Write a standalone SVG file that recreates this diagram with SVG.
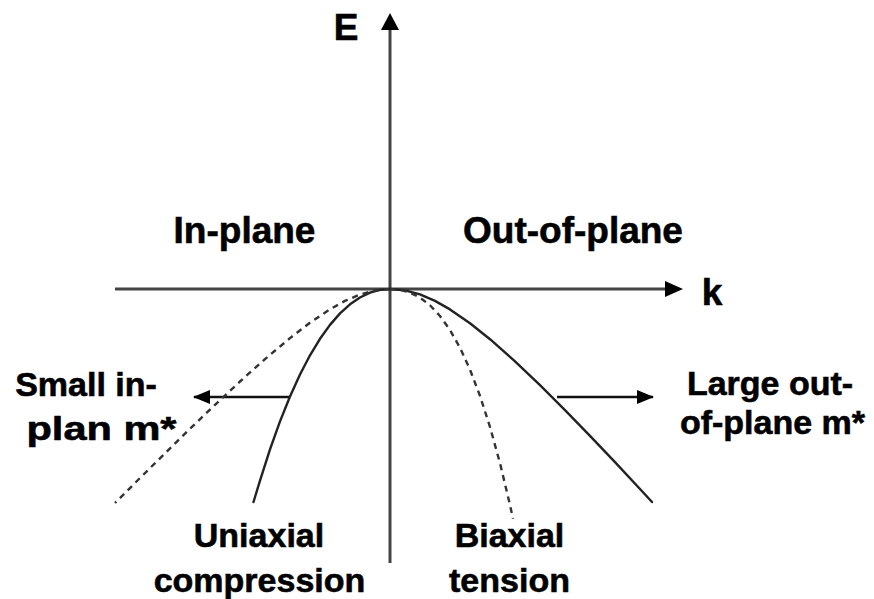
<svg xmlns="http://www.w3.org/2000/svg" width="874" height="599" viewBox="0 0 874 599">
<style>
.axis{stroke:#444;stroke-width:3;fill:none}
.curve{stroke:#222;stroke-width:2.4;fill:none;stroke-linejoin:round;stroke-linecap:round}
.dash{stroke-dasharray:6 5;stroke-linecap:butt;stroke:#333}
.arr{stroke:#111;stroke-width:2.5;fill:none}
text{font-family:"Liberation Sans",Arial,sans-serif;font-weight:bold;fill:#000;stroke:#000;stroke-width:0.6;text-anchor:middle}
.big{font-size:37px}
.lbl{font-size:34px}
</style>
<defs>
<marker id="ah" markerWidth="18" markerHeight="16" refX="16" refY="7" orient="auto" markerUnits="userSpaceOnUse">
<path d="M0,0 L17,7 L0,14 Z" fill="#000"/>
</marker>
</defs>
<g id="connectors">
<line class="axis" x1="390" y1="563" x2="390" y2="29"/>
<path d="M381,30 L390,13 L399,30 Z" fill="#000"/>
<line class="axis" x1="115" y1="289" x2="666" y2="289"/>
<path d="M665,281 L683,289 L665,297 Z" fill="#000"/>
<line class="arr" x1="290" y1="397" x2="194" y2="397" marker-end="url(#ah)"/>
<line class="arr" x1="557" y1="397" x2="653" y2="397" marker-end="url(#ah)"/>
</g>
<g id="curve-uniaxial">
<polyline class="curve" points="390,289 380,289.9 370,292.7 360,297.5 350,304.3 340,313.4 330,324.9 320,338.8 310,355.3 300,374.5 290,396.5 280,421.4 270,449.4 260,480.6 253.5,502"/>
</g>
<g id="curve-inplane">
<polyline class="curve dash" points="390,289 375,290.4 360,294.5 345,300.9 330,309.3 310,322.7 290,338.1 265,359.1 240,381.5 215,404.8 190,428.8 165,453.3 140,478 115,503"/>
</g>
<g id="curve-outofplane">
<polyline class="curve" points="390,289 405,290.4 420,294.4 435,300.9 450,309.4 470,323.2 490,339.2 515,361.3 540,385.2 565,410.1 590,435.9 615,462.2 640,489 652,502"/>
</g>
<g id="curve-biaxial">
<polyline class="curve dash" points="390,289 400,289.8 410,292.6 420,297.6 430,305.3 440,316 450,330 460,347.8 470,369.6 480,395.9 490,427 500,463.2 510,505 513,518.7"/>
</g>
<g id="label-E"><text class="big" x="346" y="40">E</text></g>
<g id="label-k"><text class="big" x="712" y="305">k</text></g>
<g id="label-inplane"><text class="big" x="244.5" y="243">In-plane</text></g>
<g id="label-outofplane"><text class="big" x="573" y="243">Out-of-plane</text></g>
<g id="label-small"><text class="lbl" x="86" y="396">Small in-</text><text class="lbl" x="101.5" y="440" textLength="150" lengthAdjust="spacingAndGlyphs">plan m*</text></g>
<g id="label-large"><text class="lbl" x="770" y="395">Large out-</text><text class="lbl" x="772.5" y="434">of-plane m*</text></g>
<g id="label-uniaxial"><text class="lbl" x="259" y="547">Uniaxial</text><text class="lbl" x="259.5" y="592">compression</text></g>
<g id="label-biaxial"><text class="lbl" x="509.5" y="547">Biaxial</text><text class="lbl" x="509.5" y="592">tension</text></g>
</svg>
